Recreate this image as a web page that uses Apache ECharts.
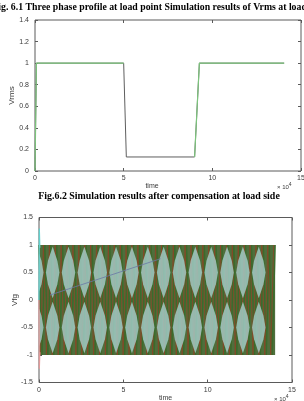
<!DOCTYPE html>
<html>
<head>
<meta charset="utf-8">
<script src="https://cdn.jsdelivr.net/npm/echarts@6/dist/echarts.min.js"></script>
<style>
  html, body { margin: 0; padding: 0; background: #fff; }
  #chart { width: 304px; height: 401px; }
</style>
</head>
<body>
<div id="chart"></div>
<script>
// Fig 6.1 - Vrms at the load point (time axis in x10^4)
const rmsTime = [0, 0.08, 5.0, 5.15, 9.0, 9.27, 14.05]
const rmsGray = [0, 1, 1, 0.13, 0.13, 1, 1]
const rmsGreenTime = [0, 0.08, 5.0, 5.0, 9.0, 9.27, 14.05]
const rmsGreen = [0, 1, 1, null, 0.13, 1, 1]

// Fig 6.2 - Vfg after compensation, drawn samples (step in x10^4)
const sampleStep = 0.175
const phaseBOffset = 0.0875
const phaseA = [
  1, -1, 1, -1, 1, -1, 1, -1, 1, -1,
  1, -1, 1, -1, 1, -1, 1, -1, 1, -1,
  1, -1, 1, -1, 1, -1, 1, -1, 1, -1,
  1, -1, 1, -1, 1, -1, 1, -1, 1, -1,
  1, -1, 1, -1, 1, -1, 1, -1, 1, -1,
  1, -1, 1, -1, 1, -1, 1, -1, 1, -1,
  1, -1, 1, -1, 1, -1, 1, -1, 1, -1,
  1, -1, 1, -1, 1, -1, 1, -1, 1, -1,
  1
]
const phaseB = [
  -1, 1, -1, 1, -1, 1, -1, 1, -1, 1,
  -1, 1, -1, 1, -1, 1, -1, 1, -1, 1,
  -1, 1, -1, 1, -1, 1, -1, 1, -1, 1,
  -1, 1, -1, 1, -1, 1, -1, 1, -1, 1,
  -1, 1, -1, 1, -1, 1, -1, 1, -1, 1,
  -1, 1, -1, 1, -1, 1, -1, 1, -1, 1,
  -1, 1, -1, 1, -1, 1, -1, 1, -1, 1,
  -1, 1, -1, 1, -1, 1, -1, 1, -1, 1
]
// light beat "diamonds" seen in the moire pattern
const lightDiamondX = [-0.13, 0.81, 1.75, 2.69, 3.63, 4.57, 5.51, 6.45, 7.39, 8.33, 9.27, 10.21, 11.15, 12.09, 13.03]
const lightDiamondY = [0.5, -0.5]
const diamondHalfW = 0.4
const diamondHalfH = 0.47
const bandTime = [0, 14]
const bandV = [-1, 1]
// start-up transient and the slow drift trace
const cyanStartTime = [0, 0.02, 0.05]
const cyanStartV = [0, 1.3, 0.95]
const redStartTime = [0, 0.02, 0.05]
const redStartV = [0, -1.25, -0.95]
const driftTime = [0.65, 7.2]
const driftV = [0.09, 0.75]

const xTicks = {min: 0, max: 15, interval: 5}
const axisColor = '#5a5a5a'
const labelColor = '#3a3a3a'
const fontFam = '"Liberation Sans", Arial, sans-serif'

const pairs = (xs, ys) => xs.map((x, i) => (ys[i] == null ? '-' : [x, ys[i]]))
const samples = (vals, start) => vals.map((v, i) => [start + i * sampleStep, v])

const chart = echarts.init(document.getElementById('chart'), null, {renderer: 'canvas'})

const noLine = {show: false, onZero: false}
const tick = {inside: true, length: 3, lineStyle: {color: axisColor}}

const mainX = (grid, name, shiftName) => ({
  gridIndex: grid, type: 'value', ...xTicks,
  axisLine: noLine, axisTick: tick,
  axisLabel: {fontSize: 7, margin: 4, color: labelColor, fontFamily: fontFam},
  splitLine: {show: false},
  name: name, nameLocation: 'middle', nameGap: 12, nameMoveOverlap: false,
  nameTextStyle: {fontSize: 7, color: labelColor, fontFamily: fontFam, padding: [0, shiftName, 0, 0]}
})
const topX = (grid) => ({
  gridIndex: grid, type: 'value', position: 'top', ...xTicks,
  axisLine: noLine, axisTick: tick,
  axisLabel: {show: false}, splitLine: {show: false}
})
const mainY = (grid, min, max, step, name, gap) => ({
  gridIndex: grid, type: 'value', min: min, max: max, interval: step,
  axisLine: noLine, axisTick: tick,
  axisLabel: {fontSize: 7, margin: 6, color: labelColor, fontFamily: fontFam},
  splitLine: {show: false},
  name: name, nameLocation: 'middle', nameGap: gap, nameMoveOverlap: false,
  nameTextStyle: {fontSize: 8, color: labelColor, fontFamily: fontFam}
})
const rightY = (grid, min, max, step) => ({
  gridIndex: grid, type: 'value', position: 'right', min: min, max: max, interval: step,
  axisLine: noLine, axisTick: tick,
  axisLabel: {show: false}, splitLine: {show: false}
})

const titleStyle = {
  fill: '#000', fontSize: 11, fontWeight: 'bold',
  fontFamily: '"Liberation Serif", "DejaVu Serif", serif',
  textAlign: 'center', textVerticalAlign: 'middle'
}
const expStyle = (x, y) => ({
  type: 'text', x: x, y: y,
  style: {
    text: '\u00d7 10{sup|4}', fill: labelColor, fontSize: 6, fontFamily: fontFam,
    rich: {sup: {fontSize: 5, padding: [0, 0, 5, 0], fill: labelColor}}
  }
})

chart.setOption({
  animation: false,
  grid: [
    {left: 35, right: 3, top: 20, bottom: 230, outerBoundsMode: 'none', containLabel: false,
      show: true, borderColor: axisColor, borderWidth: 1},
    {left: 39, right: 12, top: 217.5, bottom: 18.5, outerBoundsMode: 'none', containLabel: false,
      show: true, borderColor: axisColor, borderWidth: 1}
  ],
  xAxis: [mainX(0, 'time', 32), topX(0), mainX(1, 'time', 0), topX(1)],
  yAxis: [
    mainY(0, 0, 1.4, 0.2, 'Vrms', 19), rightY(0, 0, 1.4, 0.2),
    mainY(1, -1.5, 1.5, 0.5, 'Vfg', 20), rightY(1, -1.5, 1.5, 0.5)
  ],
  graphic: [
    {type: 'text', x: 159, y: 7, scaleX: 0.89,
      style: {...titleStyle, text: 'Fig. 6.1 Three phase profile at load point Simulation results of Vrms at load side'}},
    {type: 'text', x: 159, y: 196, scaleX: 0.9,
      style: {...titleStyle, text: 'Fig.6.2 Simulation results after compensation at load side'}},
    expStyle(277, 182),
    expStyle(274, 394)
  ],
  series: [
    {
      name: 'Vrms ab', type: 'line', xAxisIndex: 0, yAxisIndex: 0, showSymbol: false,
      data: pairs(rmsTime, rmsGray), lineStyle: {color: '#5e5e5e', width: 1}
    },
    {
      name: 'Vrms bc', type: 'line', xAxisIndex: 0, yAxisIndex: 0, showSymbol: false,
      data: pairs(rmsGreenTime, rmsGreen), lineStyle: {color: '#7cc47c', width: 1.2}
    },
    {
      name: 'Vfg a', type: 'line', xAxisIndex: 2, yAxisIndex: 2, showSymbol: false,
      data: samples(phaseA, 0), lineStyle: {color: '#3b6b2c', width: 1.4},
      markArea: {
        silent: true, itemStyle: {color: '#4f6e3c'},
        data: [[{coord: [bandTime[0], bandV[0]]}, {coord: [bandTime[1], bandV[1]]}]]
      }
    },
    {
      name: 'Vfg b', type: 'line', xAxisIndex: 2, yAxisIndex: 2, showSymbol: false,
      data: samples(phaseB, phaseBOffset), lineStyle: {color: '#8a4526', width: 0.8}
    },
    {
      name: 'Vfg c', type: 'custom', xAxisIndex: 2, yAxisIndex: 2, clip: true, z: 10,
      data: lightDiamondX.flatMap(x => lightDiamondY.map(y => [x, y])),
      renderItem: (params, api) => {
        const x = api.value(0), y = api.value(1)
        const w = diamondHalfW, h = diamondHalfH
        const pts = [[x, y + h], [x + 0.7 * w, y + 0.45 * h], [x + w, y], [x + 0.7 * w, y - 0.45 * h],
          [x, y - h], [x - 0.7 * w, y - 0.45 * h], [x - w, y], [x - 0.7 * w, y + 0.45 * h]]
        return {type: 'polygon', shape: {points: pts.map(p => api.coord(p))},
          style: {fill: '#a6cfcd', opacity: 0.8}}
      }
    },
    {
      name: 'start c', type: 'line', xAxisIndex: 2, yAxisIndex: 2, showSymbol: false, z: 11,
      data: pairs(cyanStartTime, cyanStartV), lineStyle: {color: '#62d2cf', width: 1.2}
    },
    {
      name: 'start a', type: 'line', xAxisIndex: 2, yAxisIndex: 2, showSymbol: false, z: 11,
      data: pairs(redStartTime, redStartV), lineStyle: {color: '#e39a9a', width: 1.2}
    },
    {
      name: 'drift', type: 'line', xAxisIndex: 2, yAxisIndex: 2, showSymbol: false, z: 11,
      data: pairs(driftTime, driftV), lineStyle: {color: '#6a78a6', width: 0.8}
    }
  ]
})
</script>
</body>
</html>
